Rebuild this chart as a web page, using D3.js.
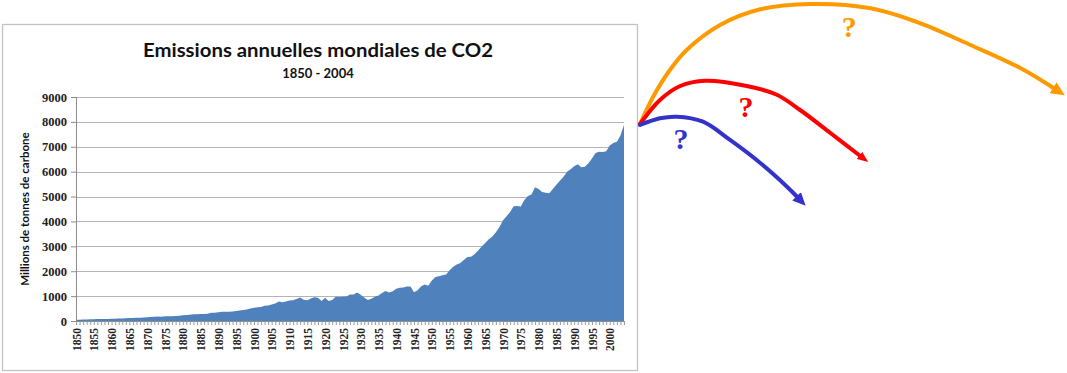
<!DOCTYPE html>
<html>
<head>
<meta charset="utf-8">
<script src="https://cdn.jsdelivr.net/npm/d3@7"></script>
<style>
  body { margin: 0; background: #fff; }
  svg { display: block; }
</style>
</head>
<body>
<div id="chart"></div>
<script>
/**
 * Size of the whole picture
 */
const totalWidth = 1067;
const totalHeight = 373;

/**
 * First year of the series, one value per year after it
 */
const startYear = 1850;

/**
 * Annual world CO2 emissions, millions of tonnes of carbon, 1850 - 2004
 */
const emissions = [
  54, 54, 57, 59, 69, 71, 76, 77, 78, 83,
  91, 95, 97, 104, 112, 119, 122, 130, 135, 142,
  147, 156, 173, 184, 174, 188, 191, 194, 196, 210,
  236, 243, 256, 272, 275, 277, 281, 295, 327, 327,
  356, 372, 374, 370, 383, 406, 419, 440, 465, 507,
  534, 552, 566, 617, 624, 663, 707, 784, 750, 785,
  819, 836, 879, 943, 850, 838, 901, 955, 936, 806,
  932, 803, 845, 970, 963, 975, 983, 1062, 1065, 1145,
  1053, 940, 847, 893, 973, 1027, 1130, 1209, 1142, 1192,
  1299, 1334, 1342, 1391, 1383, 1160, 1238, 1392, 1469, 1419,
  1630, 1767, 1795, 1841, 1865, 2042, 2177, 2270, 2330, 2454,
  2569, 2580, 2686, 2833, 2995, 3130, 3288, 3393, 3566, 3780,
  4053, 4208, 4376, 4614, 4623, 4596, 4864, 5026, 5087, 5369,
  5300, 5180, 5150, 5130, 5300, 5470, 5640, 5800, 6000, 6100,
  6220, 6300, 6180, 6200, 6340, 6530, 6750, 6800, 6790, 6820,
  7050, 7150, 7200, 7450, 7870
];

/**
 * Y axis tick values
 */
const yTicks = [0, 1000, 2000, 3000, 4000, 5000, 6000, 7000, 8000, 9000];

/**
 * Title texts
 */
const titleText = "Emissions annuelles mondiales de CO2";
const subtitleText = "1850 - 2004";
const yAxisTitle = "Millions de tonnes de carbone";

/**
 * The three "what next" arrows, as [year, value] points in the chart's units
 */
const orangeArrow = [[2008.5, 7915], [2012.2, 9012], [2016.9, 10085], [2021.6, 10889], [2031.0, 11893],
  [2042.3, 12524], [2056.4, 12737], [2073.3, 12564], [2087.3, 11962], [2101.4, 11090],
  [2115.5, 10153], [2124.8, 9350]];
const redArrow = [[2008.5, 7915], [2014.1, 8880], [2019.8, 9442], [2026.8, 9655], [2038.5, 9442],
  [2046.8, 9101], [2053.5, 8478], [2062.0, 7554], [2070.4, 6630]];
const blueArrow = [[2008.5, 7875], [2014.1, 8144], [2018.8, 8209], [2026.2, 8008], [2033.8, 7273],
  [2042.3, 6348], [2049.8, 5396], [2052.7, 4982]];

/**
 * Question marks: [year, value] of the baseline centre
 */
const orangeMark = [2067.3, 11411];
const redMark = [2038.3, 8209];
const blueMark = [2020.0, 6911];

var data = emissions.map((v, i) => ({ year: startYear + i, value: v }));
var lastYear = startYear + emissions.length - 1;

var svg = d3.select("#chart")
  .append("svg")
    .attr("width", totalWidth)
    .attr("height", totalHeight);

/* chart frame */
svg.append("rect")
  .attr("x", 2.5).attr("y", 24.5)
  .attr("width", 635).attr("height", 346)
  .attr("fill", "#fff")
  .attr("stroke", "#c4c4c4")
  .attr("stroke-width", 1.3);

var x = d3.scaleLinear().domain([startYear, lastYear]).range([76, 624]);
var y = d3.scaleLinear().domain([0, 9000]).range([321, 97]);

/* gridlines */
svg.append("g")
  .selectAll("line")
  .data(yTicks.filter(d => d > 0))
  .join("line")
    .attr("x1", x(startYear)).attr("x2", x(lastYear))
    .attr("y1", d => Math.round(y(d)) + 0.5).attr("y2", d => Math.round(y(d)) + 0.5)
    .attr("stroke", "#b3b3b3")
    .attr("stroke-width", 1);

/* area */
var area = d3.area()
  .x(d => x(d.year))
  .y0(y(0))
  .y1(d => y(d.value));

svg.append("path")
  .datum(data)
  .attr("d", area)
  .attr("fill", "#4f81bd");

/* x axis: a tick every year, a label every 5 years */
var xAxis = svg.append("g")
  .attr("transform", "translate(0," + y(0) + ")")
  .call(d3.axisBottom(x)
    .tickValues(data.map(d => d.year))
    .tickSize(4)
    .tickFormat(d => d % 5 === 0 ? d : ""));
xAxis.select(".domain").attr("stroke", "#8c8c8c");
xAxis.selectAll(".tick line").attr("stroke", "#9a9a9a");
xAxis.selectAll("text")
  .attr("transform", "rotate(-90)")
  .attr("x", -7)
  .attr("y", 0)
  .attr("dy", "0.36em")
  .style("text-anchor", "end")
  .style("font-family", "'Liberation Serif', serif")
  .style("font-weight", "bold")
  .style("font-size", "11.5px")
  .attr("fill", "#222");

/* y axis */
var yAxis = svg.append("g")
  .attr("transform", "translate(" + x(startYear) + ",0)")
  .call(d3.axisLeft(y).tickValues(yTicks).tickSize(5).tickPadding(4).tickFormat(d3.format("d")));
yAxis.select(".domain").attr("stroke", "#8c8c8c");
yAxis.selectAll(".tick line").attr("stroke", "#8c8c8c");
yAxis.selectAll("text")
  .style("font-family", "'Liberation Serif', serif")
  .style("font-weight", "bold")
  .style("font-size", "12.5px")
  .attr("fill", "#222");

/* titles */
svg.append("text")
  .attr("x", 318).attr("y", 57)
  .attr("text-anchor", "middle")
  .attr("textLength", 350)
  .attr("lengthAdjust", "spacingAndGlyphs")
  .style("font-family", "Lato, 'Liberation Sans', sans-serif")
  .style("font-weight", "bold")
  .style("font-size", "19px")
  .attr("fill", "#111")
  .text(titleText);

svg.append("text")
  .attr("x", 318).attr("y", 78)
  .attr("text-anchor", "middle")
  .style("font-family", "Lato, 'Liberation Sans', sans-serif")
  .style("font-weight", "bold")
  .style("font-size", "13px")
  .attr("fill", "#111")
  .text(subtitleText);

svg.append("text")
  .attr("transform", "translate(29," + y(4500) + ") rotate(-90)")
  .attr("text-anchor", "middle")
  .style("font-family", "Lato, 'Liberation Sans', sans-serif")
  .style("font-weight", "bold")
  .style("font-size", "11.5px")
  .attr("fill", "#111")
  .text(yAxisTitle);

/* arrow heads */
var defs = svg.append("defs");
function addMarker(id, color, len, half) {
  defs.append("marker")
    .attr("id", id)
    .attr("markerUnits", "userSpaceOnUse")
    .attr("viewBox", "0 " + (-half) + " " + len + " " + (2 * half))
    .attr("refX", 1)
    .attr("refY", 0)
    .attr("markerWidth", len)
    .attr("markerHeight", 2 * half)
    .attr("orient", "auto")
    .append("path")
      .attr("d", "M0," + (-half) + "L" + len + ",0L0," + half + "Z")
      .attr("fill", color);
}
addMarker("head-orange", "#ff9900", 14, 6.5);
addMarker("head-red", "#ff0000", 11, 4.5);
addMarker("head-blue", "#3333cc", 13, 6);

var arrowLine = d3.line()
  .x(d => x(d[0]))
  .y(d => y(d[1]))
  .curve(d3.curveCatmullRom.alpha(0.5));

[[orangeArrow, "#ff9900", "head-orange"],
 [redArrow, "#ff0000", "head-red"],
 [blueArrow, "#3333cc", "head-blue"]].forEach(a => {
  svg.append("path")
    .datum(a[0])
    .attr("d", arrowLine)
    .attr("fill", "none")
    .attr("stroke", a[1])
    .attr("stroke-width", 4)
    .attr("stroke-linecap", "round")
    .attr("marker-end", "url(#" + a[2] + ")");
});

/* question marks */
[[orangeMark, "#ff9900"], [redMark, "#ff0000"], [blueMark, "#3333cc"]].forEach(m => {
  svg.append("text")
    .attr("x", x(m[0][0]))
    .attr("y", y(m[0][1]))
    .attr("text-anchor", "middle")
    .style("font-family", "'Liberation Serif', serif")
    .style("font-weight", "bold")
    .style("font-size", "30px")
    .attr("fill", m[1])
    .text("?");
});
</script>
</body>
</html>
